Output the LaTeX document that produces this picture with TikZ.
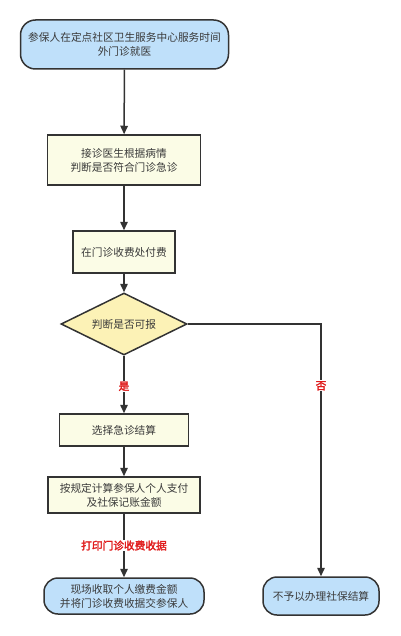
\documentclass[tikz,border=0pt]{standalone}
\usepackage{fontspec}
\setmainfont{Noto Sans CJK SC}[AutoFakeBold=2.5]
\usetikzlibrary{shapes.geometric,arrows.meta}
\definecolor{edge}{HTML}{333333}
\definecolor{txt}{HTML}{3A3A3A}
\definecolor{bluefill}{HTML}{BFE0FA}
\definecolor{creamfill}{HTML}{FBFCE6}
\definecolor{diafill}{HTML}{FCF2B6}
\definecolor{redlab}{HTML}{E01B1B}
\tikzset{
  base/.style={draw=edge, line width=1.5pt, text=txt, font=\fontsize{10.7}{14}\selectfont, align=center, inner sep=0pt},
  term/.style={base, fill=bluefill, rounded corners=15pt},
  procbox/.style={base, fill=creamfill},
  decide/.style={base, fill=diafill, diamond, aspect=2},
  conn/.style={draw=edge, line width=1.5pt, -{Triangle[length=8.5pt,width=7.5pt]}},
  lab/.style={fill=white, text=redlab, font=\fontsize{10.7}{13}\selectfont\bfseries, inner sep=1pt}
}
\begin{document}
\begin{tikzpicture}[x=1pt,y=-1pt]
\useasboundingbox (0,0) rectangle (400,636);
\node[term, minimum width=208pt, minimum height=49pt] (start) at (124.5,44.5) {参保人在定点社区卫生服务中心服务时间\\外门诊就医};
\node[procbox, minimum width=153pt, minimum height=50pt] (diag) at (124,160) {接诊医生根据病情\\判断是否符合门诊急诊};
\node[procbox, minimum width=102pt, minimum height=42pt] (pay) at (124,252) {在门诊收费处付费};
\node[decide, minimum width=126pt, minimum height=62pt] (can) at (124,324) {判断是否可报};
\node[procbox, minimum width=129pt, minimum height=32pt] (sel) at (124,430) {选择急诊结算};
\node[procbox, minimum width=152pt, minimum height=36pt] (calc) at (124,495) {按规定计算参保人个人支付\\及社保记账金额};
\node[term, rounded corners=14pt, minimum width=160pt, minimum height=36pt] (coll) at (124,596) {现场收取个人缴费金额\\并将门诊收费收据交参保人};
\node[term, rounded corners=14pt, minimum width=116pt, minimum height=38pt] (no) at (321,596) {不予以办理社保结算};
\coordinate (corner) at (321,324);
\draw[conn] (start) -- (diag);
\draw[conn] (diag) -- (pay);
\draw[conn] (pay) -- (can);
\draw[conn] (can) -- node[lab, pos=0.53] {是} (sel);
\draw[conn] (sel) -- (calc);
\draw[conn] (calc) -- node[lab, pos=0.5] {打印门诊收费收据} (coll);
\draw[conn] (can.east) -- (corner) -- node[lab, pos=0.245] {否} (no.north);
\end{tikzpicture}
\end{document}
